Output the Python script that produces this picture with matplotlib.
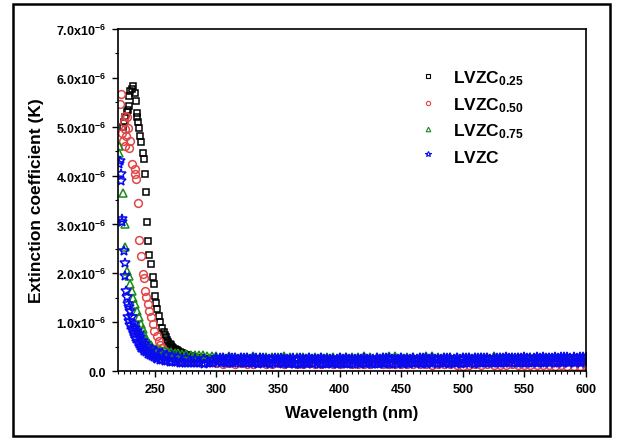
import numpy as np
import matplotlib
matplotlib.use("Agg")
import matplotlib.pyplot as plt
from matplotlib.ticker import MultipleLocator, FuncFormatter
from matplotlib.patches import Rectangle

plt.rcParams['font.family'] = ['Liberation Sans', 'DejaVu Sans']
plt.rcParams['font.weight'] = 'bold'
plt.rcParams['axes.labelweight'] = 'bold'
plt.rcParams['mathtext.fontset'] = 'custom'
plt.rcParams['mathtext.rm'] = 'Liberation Sans:bold'
plt.rcParams['mathtext.bf'] = 'Liberation Sans:bold'
plt.rcParams['mathtext.it'] = 'Liberation Sans:bold'

# values in units of 1e-6
labels = ['LVZC$_{0.25}$', 'LVZC$_{0.50}$', 'LVZC$_{0.75}$', r'LVZC$_{\ }$']

# absorption edge region
wl_025 = [224, 225, 226, 227, 228, 228.7, 229.2, 230.0, 231.3, 231.9, 233.5, 234.6,
          235.1, 235.4, 236.2, 236.7, 238.1, 238.9, 240.0, 240.8, 241.6, 242.7,
          243.2, 244.3, 245.4, 246.7, 248.1, 248.9, 249.7, 250.8, 251.6, 253.0,
          254.3, 255.7, 257, 258, 259, 260, 261, 262, 263, 264, 265, 266, 267, 268,
          269, 270, 271, 272, 273, 274, 275, 276, 277, 278, 279, 280, 282, 284, 286,
          288, 290, 293, 296]
k_025 = [5.0, 5.1, 5.2, 5.3, 5.35, 5.43, 5.63, 5.73, 5.77, 5.83, 5.70, 5.53,
         5.29, 5.19, 5.09, 4.98, 4.81, 4.68, 4.47, 4.34, 4.04, 3.67,
         3.04, 2.66, 2.37, 2.20, 1.92, 1.78, 1.54, 1.40, 1.27, 1.13,
         1.00, 0.89, 0.80, 0.74, 0.69, 0.64, 0.60, 0.56, 0.53, 0.50, 0.48, 0.46, 0.44, 0.42,
         0.40, 0.39, 0.37, 0.36, 0.35, 0.34, 0.33, 0.32, 0.31, 0.30, 0.30, 0.29, 0.28, 0.27, 0.26,
         0.26, 0.25, 0.24, 0.24]

wl_050 = [221.9, 222.7, 223.2, 223.7, 224.6, 225.4, 225.9, 225.9, 226.5, 227.3,
          228.1, 228.7, 230.0, 231.3, 233.5, 233.5, 234.6, 236.2, 237.3, 238.9,
          240.0, 241.3, 242.1, 242.9, 244.3, 245.4, 246.7, 248.1, 249.4, 251.6,
          253.0, 254.5, 256, 258, 260, 262, 264, 266, 268, 270, 273, 276, 280,
          285, 290, 295]
k_050 = [5.46, 5.66, 4.88, 4.71, 5.09, 5.22, 4.95, 4.61, 4.81, 5.19,
         4.98, 4.57, 4.71, 4.23, 4.13, 4.03, 3.93, 3.44, 2.69, 2.35,
         1.98, 1.90, 1.64, 1.51, 1.37, 1.23, 1.10, 0.96, 0.82, 0.72,
         0.62, 0.54, 0.47, 0.40, 0.35, 0.31, 0.28, 0.26, 0.24, 0.23, 0.22, 0.21, 0.20,
         0.19, 0.19, 0.18]

wl_075 = [220.8, 221.1, 223.8, 225.4, 225.9, 227.5, 228.7, 230.0, 231.3, 232.5,
          234.0, 235.3, 236.8, 238.5, 240.0, 241.5, 243, 244.9, 246.5, 248, 250.3,
          252, 254, 256, 258.4, 261, 263, 266, 269, 272, 275, 279, 282.6, 286,
          289, 292, 296,
          # lower edge of the green band
          236, 238, 240, 242, 244, 246, 248, 250, 253, 256, 259, 262, 266, 270,
          275, 280, 285, 290, 295]
k_075 = [4.60, 4.47, 3.64, 3.01, 2.53, 2.05, 1.95, 1.78, 1.64, 1.50,
         1.37, 1.23, 1.10, 0.96, 0.86, 0.76, 0.66, 0.57, 0.53, 0.49, 0.45,
         0.43, 0.42, 0.41, 0.40, 0.39, 0.38, 0.37, 0.36, 0.35, 0.34, 0.33, 0.33, 0.32,
         0.32, 0.31, 0.31,
         0.90, 0.78, 0.68, 0.60, 0.52, 0.46, 0.42, 0.38, 0.35, 0.33, 0.31, 0.30, 0.29, 0.28,
         0.28, 0.27, 0.27, 0.27, 0.27]

wl_lvzc = [221.1, 221.9, 222.2, 222.7, 223.2, 223.5, 224.6, 225.4, 225.9, 226.5,
           227.3, 228.3, 229.2, 230.0, 231.3, 232.7, 234.0, 235.4, 236.8, 238.1,
           240, 242.1, 244.5, 247.5, 251, 255.7, 260, 264, 269, 275, 282.6, 290, 297,
           # lower edge of the blue band
           228, 229, 230, 231, 232, 233, 234, 235, 236, 237, 238, 239, 240, 241.5,
           243, 244.5, 246, 247.5, 249, 250.5, 252, 254, 256, 258, 260, 262, 264,
           266, 268, 270, 272, 274.5, 277, 279.5, 282, 284.5, 287, 289.5, 292,
           294.5, 297]
k_lvzc = [4.23, 4.30, 4.03, 3.89, 3.11, 3.05, 2.46, 2.21, 1.95, 1.64,
          1.51, 1.37, 1.30, 1.23, 1.10, 0.96, 0.89, 0.82, 0.75, 0.69,
          0.62, 0.55, 0.50, 0.45, 0.40, 0.36, 0.33, 0.31, 0.28, 0.27, 0.25, 0.24, 0.23,
          1.10, 1.02, 0.95, 0.88, 0.82, 0.76, 0.70, 0.65, 0.60, 0.56, 0.52, 0.48, 0.45, 0.41,
          0.38, 0.35, 0.32, 0.30, 0.28, 0.26, 0.25, 0.23, 0.22, 0.21, 0.20, 0.19, 0.19,
          0.18, 0.18, 0.17, 0.17, 0.17, 0.16, 0.16, 0.16, 0.16, 0.16, 0.15, 0.16,
          0.16, 0.17]

# flat tail 300-600 nm
wl_tail = list(range(300, 601, 5))
wl_tail_up = [300 + 2.5 * i for i in range(121)]
wl_tail_low = [301.25 + 2.5 * i for i in range(120)]
k_tail_025 = [0.22, 0.21, 0.22, 0.20, 0.21, 0.22, 0.21, 0.20, 0.21, 0.22, 0.21,
              0.20, 0.21, 0.22, 0.21, 0.20, 0.21, 0.22, 0.20, 0.21, 0.21,
              0.22, 0.20, 0.21, 0.22, 0.21, 0.20, 0.21, 0.22, 0.21, 0.20,
              0.21, 0.22, 0.21, 0.20, 0.21, 0.22, 0.20, 0.21, 0.21, 0.22,
              0.21, 0.20, 0.21, 0.22, 0.21, 0.20, 0.21, 0.22, 0.21, 0.20,
              0.21, 0.22, 0.21, 0.20, 0.21, 0.22, 0.20, 0.21, 0.21, 0.20]
k_tail_050 = [0.16, 0.15, 0.16, 0.15, 0.16, 0.15, 0.15, 0.16, 0.15, 0.15, 0.16,
              0.15, 0.16, 0.15, 0.15, 0.16, 0.15, 0.15, 0.16, 0.14, 0.15,
              0.16, 0.15, 0.15, 0.14, 0.15, 0.16, 0.15, 0.14, 0.15, 0.14,
              0.15, 0.14, 0.15, 0.14, 0.13, 0.14, 0.15, 0.14, 0.12, 0.11,
              0.12, 0.14, 0.13, 0.14, 0.13, 0.12, 0.13, 0.14, 0.13, 0.12,
              0.13, 0.12, 0.13, 0.12, 0.11, 0.12, 0.10, 0.10, 0.11, 0.10]
k_tail_075 = [0.30, 0.29, 0.30, 0.29, 0.28, 0.29, 0.30, 0.29, 0.28, 0.29, 0.28,
              0.30, 0.29, 0.28, 0.29, 0.28, 0.28, 0.29, 0.28, 0.29, 0.28,
              0.28, 0.29, 0.28, 0.30, 0.29, 0.28, 0.29, 0.30, 0.30, 0.29,
              0.28, 0.29, 0.28, 0.30, 0.30, 0.29, 0.28, 0.29, 0.29, 0.28,
              0.29, 0.28, 0.29, 0.28, 0.30, 0.28, 0.29, 0.28, 0.29, 0.28,
              0.29, 0.28, 0.29, 0.29, 0.28, 0.29, 0.28, 0.29, 0.28, 0.29]
k_tail_lvzc = [0.27, 0.26, 0.27, 0.25, 0.26, 0.27, 0.26, 0.25, 0.26, 0.27,
               0.26, 0.25, 0.26, 0.26, 0.27, 0.26, 0.25, 0.24, 0.25, 0.26,
               0.25, 0.26, 0.25, 0.24, 0.25, 0.26, 0.25, 0.26, 0.24, 0.25,
               0.26, 0.25, 0.24, 0.25, 0.26, 0.25, 0.24, 0.25, 0.24, 0.25,
               0.26, 0.25, 0.26, 0.25, 0.24, 0.25, 0.24, 0.25, 0.26, 0.25,
               0.24, 0.25, 0.26, 0.25, 0.26, 0.27, 0.26, 0.25, 0.24, 0.25,
               0.26, 0.25, 0.24, 0.25, 0.26, 0.25, 0.26, 0.27, 0.26, 0.25,
               0.26, 0.25, 0.24, 0.25, 0.26, 0.27, 0.26, 0.25, 0.26, 0.25,
               0.26, 0.27, 0.26, 0.25, 0.26, 0.27, 0.26, 0.27, 0.26, 0.25,
               0.26, 0.27, 0.26, 0.27, 0.28, 0.27, 0.26, 0.27, 0.26, 0.27,
               0.28, 0.27, 0.26, 0.27, 0.28, 0.27, 0.28, 0.27, 0.26, 0.27,
               0.28, 0.27, 0.28, 0.29, 0.28, 0.27, 0.28, 0.27, 0.28, 0.29,
               0.28]
k_tail_lvzc_low = [0.18, 0.17, 0.18, 0.17, 0.16, 0.17, 0.18, 0.17, 0.16, 0.17,
                   0.16, 0.17, 0.16, 0.15, 0.16, 0.17, 0.16, 0.15, 0.16, 0.17,
                   0.16, 0.15, 0.16, 0.15, 0.16, 0.15, 0.14, 0.15, 0.16, 0.15,
                   0.16, 0.15, 0.16, 0.15, 0.14, 0.15, 0.16, 0.15, 0.16, 0.15,
                   0.15, 0.16, 0.15, 0.14, 0.15, 0.16, 0.15, 0.16, 0.15, 0.16,
                   0.15, 0.14, 0.15, 0.16, 0.15, 0.16, 0.15, 0.14, 0.15, 0.16,
                   0.15, 0.16, 0.15, 0.16, 0.17, 0.16, 0.15, 0.16, 0.15, 0.16,
                   0.16, 0.15, 0.16, 0.17, 0.16, 0.15, 0.16, 0.17, 0.16, 0.15,
                   0.16, 0.17, 0.16, 0.15, 0.16, 0.17, 0.16, 0.17, 0.16, 0.17,
                   0.16, 0.17, 0.16, 0.17, 0.18, 0.17, 0.16, 0.17, 0.16, 0.17,
                   0.17, 0.16, 0.17, 0.18, 0.17, 0.16, 0.17, 0.18, 0.17, 0.16,
                   0.17, 0.18, 0.17, 0.18, 0.17, 0.18, 0.17, 0.18, 0.17, 0.18]

series = [
    (wl_025 + wl_tail, k_025 + k_tail_025, 's', 'black', 5.0),
    (wl_050 + wl_tail, k_050 + k_tail_050, 'o', '#e04646', 5.6),
    (wl_075 + wl_tail, k_075 + k_tail_075, '^', '#1a8a1a', 6.0),
    (wl_lvzc + wl_tail_up + wl_tail_low, k_lvzc + k_tail_lvzc + k_tail_lvzc_low,
     '*', '#0a0af0', 7.0),
]

fig = plt.figure(figsize=(6.18, 4.39), dpi=100)
ax = fig.add_axes([0.1909, 0.1526, 0.948 - 0.1909, 0.9317 - 0.1526])

for (x, y, m, c, ms), lab in zip(series, labels):
    ax.plot(x, np.array(y) * 1e-6, linestyle='none', marker=m, markersize=ms,
            markerfacecolor='none', markeredgecolor=c, markeredgewidth=1.1, label=lab)

ax.set_xlim(220, 600)
ax.set_ylim(0, 7e-6)
ax.xaxis.set_major_locator(MultipleLocator(50))
ax.xaxis.set_minor_locator(MultipleLocator(5))
ax.yaxis.set_major_locator(MultipleLocator(1e-6))
ax.yaxis.set_minor_locator(MultipleLocator(0.5e-6))


def yfmt(v, pos):
    n = round(v * 1e6, 1)
    if n == 0:
        return '0.0'
    return r'%.1fx10$^{-6}$' % n


ax.yaxis.set_major_formatter(FuncFormatter(yfmt))
ax.tick_params(which='major', direction='out', length=4.5, width=1, labelsize=9, pad=4)
ax.tick_params(which='minor', direction='out', length=2.5, width=0.8)
ax.tick_params(axis='x', pad=4)
for s in ax.spines.values():
    s.set_linewidth(1.2)

ax.set_xlabel('Wavelength (nm)', fontsize=12, labelpad=7)
ax.set_ylabel('Extinction coefficient (K)', fontsize=12.5, labelpad=9)

leg = ax.legend(loc='upper left', bbox_to_anchor=(0.63, 0.905), frameon=False,
                fontsize=12.5, markerscale=0.55, handlelength=1.0, handletextpad=0.9,
                labelspacing=0.45, borderaxespad=0)
for h in leg.legend_handles:
    h.set_markeredgewidth(0.8)

fig.patches.append(Rectangle((13 / 618, 2 / 439), 597 / 618, 432 / 439,
                             transform=fig.transFigure, fill=False,
                             edgecolor='black', linewidth=1.8))

fig.savefig('out.png', dpi=100)
